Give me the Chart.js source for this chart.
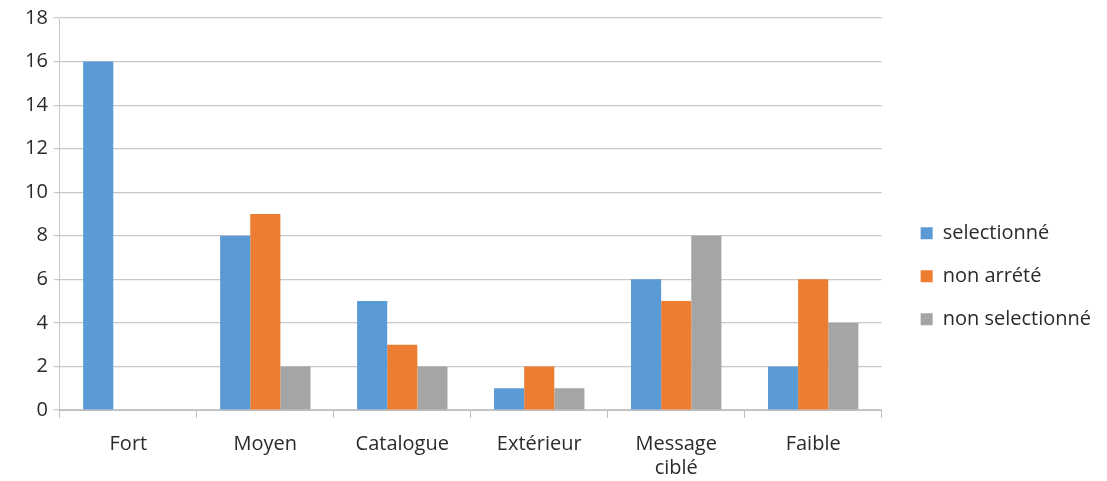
<!DOCTYPE html>
<html>
<head>
<meta charset="utf-8">
<script src="https://cdn.jsdelivr.net/npm/chart.js@4"></script>
<style>
  html, body { margin: 0; padding: 0; background: #fff; }
  #wrap { width: 1107px; height: 481px; position: relative; }
</style>
</head>
<body>
<div id="wrap"><canvas id="barChart"></canvas></div>
<script>
const categories = ["Fort", "Moyen", "Catalogue", "Extérieur", ["Message", "ciblé"], "Faible"];
const selectionne = [16, 8, 5, 1, 6, 2];
const nonArrete = [0, 9, 3, 2, 5, 6];
const nonSelectionne = [0, 2, 2, 1, 8, 4];

const seriesNames = ["selectionné", "non arrété", "non selectionné"];
const seriesColors = ["#5B9BD5", "#ED7D31", "#A5A5A5"];

Chart.defaults.font.family = "'Open Sans', Lato, sans-serif";
Chart.defaults.color = "#2b2b2b";

// push the legend a bit further from the plot area
const legendGap = {
  id: "legendGap",
  afterLayout(chart) {
    chart.legend.left += 16;
    chart.legend.right += 16;
  },
};

let ctx = document.getElementById("barChart").getContext("2d");

config = {
  type: "bar",
  data: {
    labels: categories,
    datasets: [
      { label: seriesNames[0], data: selectionne, backgroundColor: seriesColors[0] },
      { label: seriesNames[1], data: nonArrete, backgroundColor: seriesColors[1] },
      { label: seriesNames[2], data: nonSelectionne, backgroundColor: seriesColors[2] },
    ],
  },
  options: {
    responsive: true,
    maintainAspectRatio: false,
    animation: false,
    categoryPercentage: 0.66,
    barPercentage: 1.0,
    layout: {
      padding: { top: 6, right: 22, bottom: -13, left: 19 },
    },
    plugins: {
      tooltip: { enabled: false },
      legend: {
        position: "right",
        title: { display: true, text: "", padding: { top: 0, bottom: 38 } },
        labels: {
          font: { size: 20 },
          boxWidth: 12,
          boxHeight: 12,
          padding: 23,
        },
      },
    },
    scales: {
      y: {
        min: 0,
        max: 18,
        ticks: { stepSize: 2, font: { size: 20 }, padding: 6 },
        grid: { color: "#C8C8C8", tickLength: 6, lineWidth: 1.2 },
        border: { color: "#C8C8C8" },
      },
      x: {
        ticks: { font: { size: 20, lineHeight: 1.2 }, padding: 14 },
        grid: { drawOnChartArea: false, offset: true, tickLength: 8, color: "#BFBFBF" },
        border: { color: "#BFBFBF" },
      },
    },
  },
  plugins: [legendGap],
};
new Chart(ctx, config);
</script>
</body>
</html>
